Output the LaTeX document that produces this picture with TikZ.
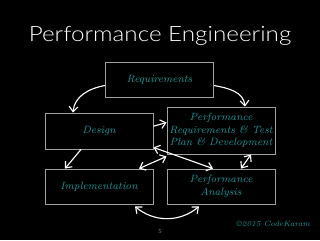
\documentclass[tikz,border=0pt]{standalone}
\usepackage{fontspec}
\usepackage{tikz}
\usetikzlibrary{arrows.meta,positioning,calc}
\usepackage{xcolor}
\newfontfamily\titlefont{Lato}[UprightFont=* Light]
\definecolor{Teal}{HTML}{1E9C9E}
\definecolor{Frame}{HTML}{A0A0A0}

\begin{document}
\begin{tikzpicture}[x=0.25mm,y=-0.25mm,
  box/.style={draw=Frame,line width=0.6pt,minimum width=27mm,minimum height=8.75mm,inner sep=0pt,
    align=center,text=Teal,font=\itshape\fontsize{7.5}{9}\selectfont},
  arr/.style={draw=white,line width=0.8pt,-{Straight Barb[length=1.3mm,width=2.2mm]}},
  darr/.style={arr,{Straight Barb[length=1.3mm,width=2.2mm]}-{Straight Barb[length=1.3mm,width=2.2mm]}}]
\fill[black] (0,0) rectangle (320,240);
\node[anchor=base,text=white,font=\titlefont\fontsize{15}{18}\selectfont] (title) at (160,41) {\scalebox{1.15}[1]{Performance Engineering}};
\node[box] (req) at (159.5,79.5) {Requirements};
\node[box,minimum height=9mm] (des) at (99,131) {Design};
\node[box,minimum height=11.75mm] (preq) at (221,130.5) {Performance\\Requirements \& Test\\Plan \& Development};
\node[box] (impl) at (99,186.5) {Implementation};
\node[box] (pana) at (221,186.5) {Performance\\Analysis};
\node[anchor=east,text=Teal,font=\itshape\fontsize{5.5}{7}\selectfont] (copy) at (315,224) {\textcopyright 2015 CodeKaram};
\node[text=Frame,font=\fontsize{4}{5}\selectfont] (page) at (160,232) {5};
% connectors
\draw[arr] ([yshift=-1.5mm]req.west) to[out=190,in=85] ([xshift=-6.5mm]des.north);
\draw[arr] ([yshift=-1.5mm]req.east) to[out=-10,in=95] ([xshift=6mm]preq.north);
\draw[arr] ([yshift=1.2mm]des.east) -- ([yshift=2mm]preq.west);
\draw[arr] ([xshift=-4.5mm]des.south) -- ([xshift=-8.5mm]impl.north);
\draw[darr] ([xshift=10mm]impl.north) -- ([yshift=-0.5mm]preq.south west);
\draw[darr] ([yshift=0.5mm]des.south east) -- ([xshift=-2mm]pana.north);
\draw[darr] ([xshift=7.5mm]preq.south) -- ([xshift=5mm]pana.north);
\draw[darr] ([xshift=9mm,yshift=-0.5mm]impl.south) to[out=-40,in=-140] ([xshift=-5.5mm,yshift=-0.5mm]pana.south);
\end{tikzpicture}
\end{document}
